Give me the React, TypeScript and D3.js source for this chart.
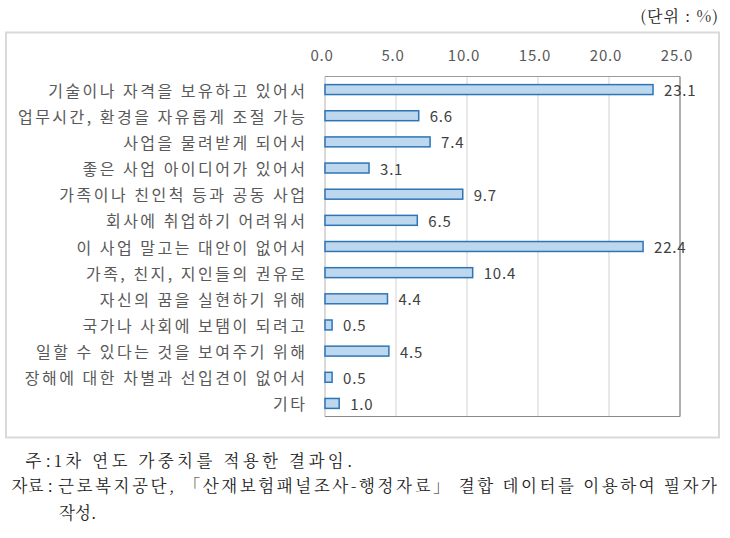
import React from "react";
import * as d3 from "d3";

const categories = [
  "기술이나 자격을 보유하고 있어서",
  "업무시간, 환경을 자유롭게 조절 가능",
  "사업을 물려받게 되어서",
  "좋은 사업 아이디어가 있어서",
  "가족이나 친인척 등과 공동 사업",
  "회사에 취업하기 어려워서",
  "이 사업 말고는 대안이 없어서",
  "가족, 친지, 지인들의 권유로",
  "자신의 꿈을 실현하기 위해",
  "국가나 사회에 보탬이 되려고",
  "일할 수 있다는 것을 보여주기 위해",
  "장해에 대한 차별과 선입견이 없어서",
  "기타",
];
const values = [23.1, 6.6, 7.4, 3.1, 9.7, 6.5, 22.4, 10.4, 4.4, 0.5, 4.5, 0.5, 1.0];
const ticks = [0, 5, 10, 15, 20, 25];
const unitText = "(단위 : %)";
const note1Head = "주 :";
const note1Body = "1차 연도 가중치를 적용한 결과임.";
const note2Head = "자료 :";
const note2Body = "근로복지공단, 「산재보험패널조사-행정자료」 결합 데이터를 이용하여 필자가";
const note2Cont = "작성.";

const W = 730;
const H = 538;
const plotL = 325;
const plotR = 680;
const plotT = 76.5;
const plotB = 416.5;

const sans = "'Noto Sans CJK KR', 'Noto Sans', sans-serif";
const serif = "'Noto Serif CJK KR', 'Nanum Myeongjo', 'Liberation Serif', 'Noto Sans CJK KR', serif";
const catSpacing = 2.5;

export default function App() {
  const x = d3.scaleLinear().domain([0, 25]).range([plotL, plotR]);
  const y = d3
    .scaleBand<string>()
    .domain(categories)
    .range([plotT, plotB])
    .paddingInner(0.62)
    .paddingOuter(0.31);

  return (
    <svg
      width={W}
      height={H}
      style={{ position: "absolute", left: 0, top: 0, background: "#fff" }}
    >
      <rect x={0} y={0} width={W} height={H} fill="#fff" />
      {/* unit */}
      <text
        x={719}
        y={15}
        textAnchor="end"
        dominantBaseline="central"
        fontFamily={serif}
        fontSize={16}
        letterSpacing={1}
        fill="#222"
      >
        {unitText}
      </text>
      {/* outer frame */}
      <rect x={6} y={32.5} width={713} height={405} fill="#fff" stroke="#d9d9d9" strokeWidth={2} />
      {/* gridlines */}
      {ticks.map((t) => (
        <line
          key={"g" + t}
          x1={x(t)}
          x2={x(t)}
          y1={plotT}
          y2={plotB}
          stroke="#d9d9d9"
          strokeWidth={1.2}
        />
      ))}
      {/* plot frame */}
      <line x1={plotL} x2={plotL} y1={plotT} y2={plotB} stroke="#cfcfcf" strokeWidth={1.2} />
      <line x1={plotL} x2={plotR} y1={plotT} y2={plotT} stroke="#9a9a9a" strokeWidth={1.2} />
      <line x1={plotR} x2={plotR} y1={plotT} y2={plotB} stroke="#888" strokeWidth={1.2} />
      <line x1={plotL} x2={plotR} y1={plotB} y2={plotB} stroke="#888" strokeWidth={1.2} />
      {/* tick labels */}
      {ticks.map((t) => (
        <text
          key={"t" + t}
          x={x(t) - 3}
          y={54}
          textAnchor="middle"
          dominantBaseline="central"
          fontFamily={sans}
          fontSize={15}
          letterSpacing={0.8}
          fill="#595959"
        >
          {t.toFixed(1)}
        </text>
      ))}
      {/* bars */}
      {categories.map((c, i) => (
        <rect
          key={"b" + i}
          x={x(0)}
          y={y(c)!}
          width={x(values[i]) - x(0)}
          height={y.bandwidth()}
          fill="#bdd7ee"
          stroke="#2e75b6"
          strokeWidth={1.5}
        />
      ))}
      {/* value labels */}
      {categories.map((c, i) => (
        <text
          key={"v" + i}
          x={x(values[i]) + 11}
          y={y(c)! + y.bandwidth() / 2}
          dominantBaseline="central"
          fontFamily={sans}
          fontSize={15}
          letterSpacing={0.8}
          fill="#404040"
        >
          {values[i].toFixed(1)}
        </text>
      ))}
      {/* category labels */}
      {categories.map((c, i) => (
        <text
          key={"c" + i}
          x={305 + catSpacing}
          y={y(c)! + y.bandwidth() / 2}
          textAnchor="end"
          dominantBaseline="central"
          fontFamily={sans}
          fontSize={16}
          letterSpacing={catSpacing}
          fill="#595959"
        >
          {c}
        </text>
      ))}
      {/* notes */}
      <text x={51} y={460} textAnchor="end" dominantBaseline="central" fontFamily={serif} fontSize={16.5} fill="#222">
        {note1Head}
      </text>
      <text x={54} y={460} dominantBaseline="central" fontFamily={serif} fontSize={16.5} letterSpacing={3.4} fill="#222">
        {note1Body}
      </text>
      <text x={53} y={485} textAnchor="end" dominantBaseline="central" fontFamily={serif} fontSize={16.5} fill="#222">
        {note2Head}
      </text>
      <text
        x={58}
        y={485}
        dominantBaseline="central"
        fontFamily={serif}
        fontSize={16.5}
        fill="#222"
        textLength={659}
        lengthAdjust="spacing"
      >
        {note2Body}
      </text>
      <text x={59} y={512} dominantBaseline="central" fontFamily={serif} fontSize={16.5} fill="#222">
        {note2Cont}
      </text>
    </svg>
  );
}
